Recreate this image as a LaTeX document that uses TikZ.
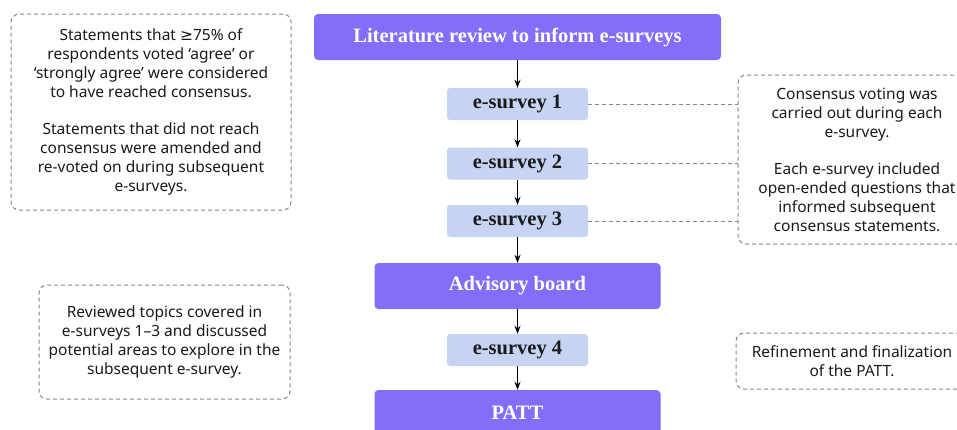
\documentclass[tikz,border=0pt]{standalone}
\usepackage{fontspec}
\setmainfont{Noto Sans}
\newfontfamily\headfont{Liberation Serif}
\newfontfamily\symfont{DejaVu Sans}
\usetikzlibrary{arrows.meta}
\definecolor{purp}{HTML}{846EF9}
\definecolor{lblue}{HTML}{C5D4F2}
\definecolor{dgray}{HTML}{858585}
\definecolor{txt}{HTML}{1A1A1A}
\begin{document}
\begin{tikzpicture}[x=1pt,y=-1pt,
  mainbox/.style={fill=purp, rounded corners=4pt, text=white, inner sep=0pt,
    font=\headfont\bfseries\fontsize{20.5}{24}\selectfont, minimum width=286pt, minimum height=46pt},
  subbox/.style={fill=lblue, rounded corners=3pt, text=txt, inner sep=0pt,
    font=\headfont\bfseries\fontsize{20.5}{24}\selectfont, minimum width=141pt, minimum height=32pt},
  note/.style={draw=dgray, dash pattern=on 4pt off 3pt, rounded corners=8pt, line width=1pt,
    align=center, text=txt, inner sep=0pt, font=\fontsize{15.5}{19}\selectfont},
  flow/.style={-{Stealth[length=8pt,width=6pt]}, line width=1.4pt, black},
  link/.style={draw=dgray, dash pattern=on 4pt off 3pt, line width=1pt}]
\useasboundingbox (0,0) rectangle (957,429);
\node[mainbox, minimum width=407pt] (lit) at (517.5,37) {Literature review to inform e-surveys};
\node[subbox] (e1) at (517.5,104) {e-survey 1};
\node[subbox] (e2) at (517.5,163.5) {e-survey 2};
\node[subbox] (e3) at (517.5,221) {e-survey 3};
\node[mainbox] (adv) at (517.5,286) {Advisory board};
\node[subbox] (e4) at (517.5,350) {e-survey 4};
\node[mainbox] (patt) at (517.5,413) {PATT};

\draw[flow] (lit.south) -- (e1.north);
\draw[flow] (e1.south) -- (e2.north);
\draw[flow] (e2.south) -- (e3.north);
\draw[flow] (e3.south) -- (adv.north);
\draw[flow] (adv.south) -- (e4.north);
\draw[flow] (e4.south) -- (patt.north);

\node[note, minimum width=280pt, minimum height=196pt] (n1) at (151,112)
 {Statements that {\symfont ≥}75\% of\\ respondents voted ‘agree’ or\\ ‘strongly agree’ were considered\\ to have reached consensus.\\[18pt]
  Statements that did not reach\\ consensus were amended and\\ re-voted on during subsequent\\ e-surveys.};
\node[note, minimum width=238pt, minimum height=169pt] (n2) at (857,159.5)
 {Consensus voting was\\ carried out during each\\ e-survey.\\[18pt]
  Each e-survey included\\ open-ended questions that\\ informed subsequent\\ consensus statements.};
\node[note, minimum width=251pt, minimum height=114pt] (n3) at (164.5,342)
 {Reviewed topics covered in\\ e-surveys 1–3 and discussed\\ potential areas to explore in the\\ subsequent e-survey.};
\node[note, minimum width=232pt, minimum height=56pt] (n4) at (852,361)
 {Refinement and finalization\\ of the PATT.};

\draw[link] (e1.east) -- (e1.east -| n2.west);
\draw[link] (e2.east) -- (e2.east -| n2.west);
\draw[link] (e3.east) -- (e3.east -| n2.west);
\end{tikzpicture}
\end{document}
